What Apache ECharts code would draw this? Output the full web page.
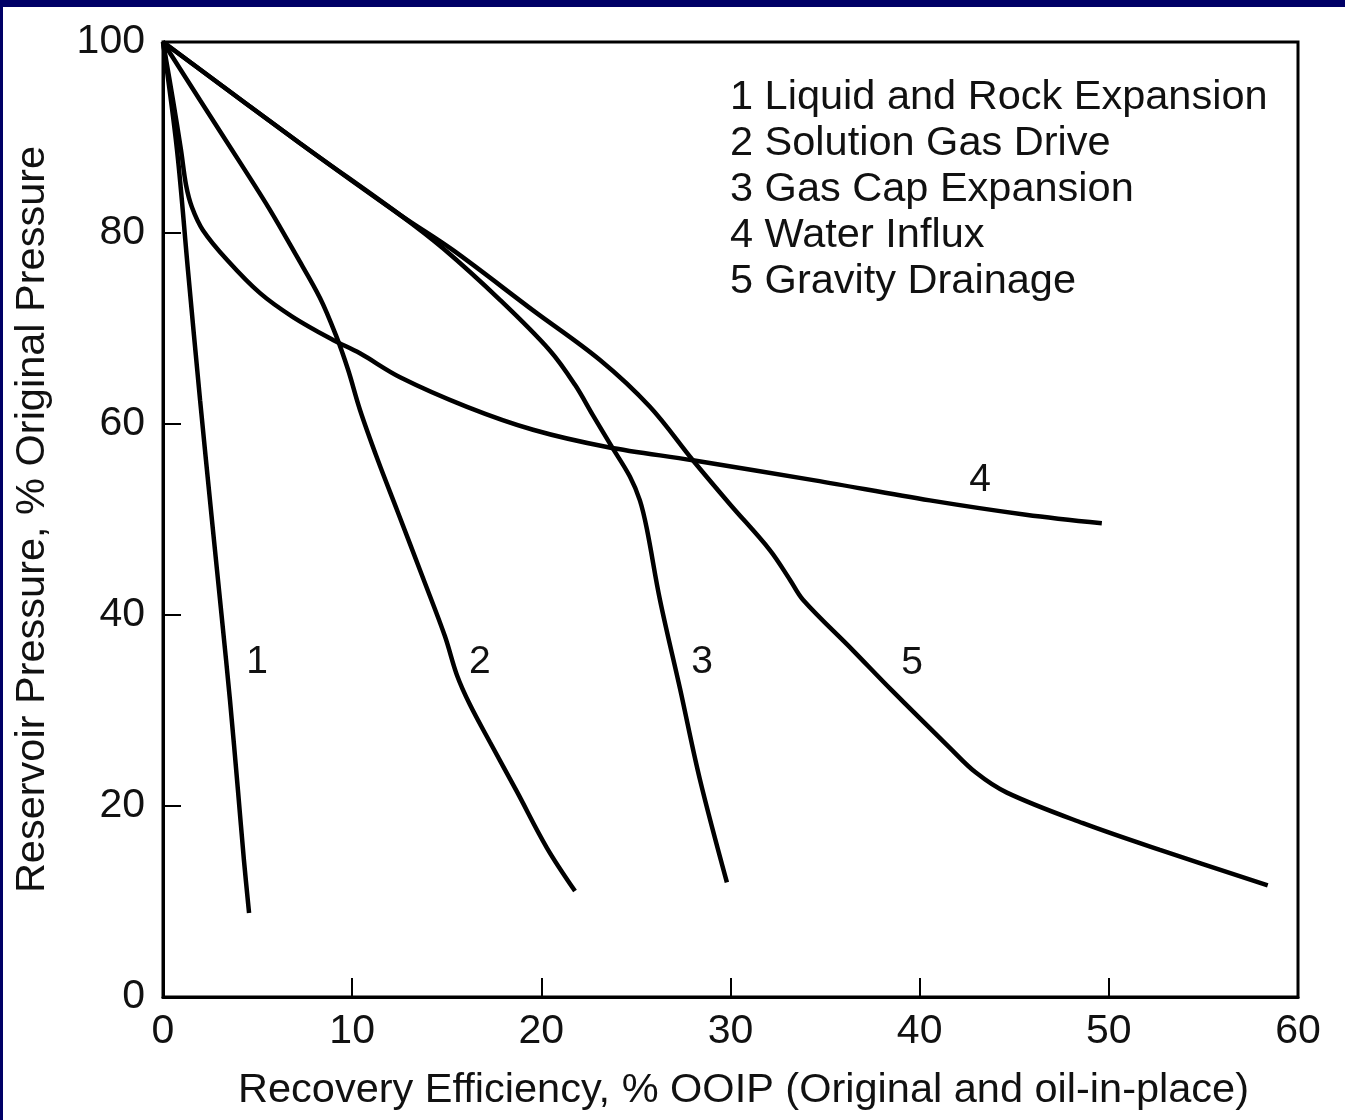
<!DOCTYPE html>
<html>
<head>
<meta charset="utf-8">
<script src="https://cdn.jsdelivr.net/npm/echarts@6/dist/echarts.min.js"></script>
<style>
  html, body { margin: 0; padding: 0; background: #fff; }
  #chart { position: absolute; left: 0; top: 0; width: 1345px; height: 1120px; }
  .band { position: absolute; background: #000066; z-index: 5; }
</style>
</head>
<body>
<div id="chart"></div>
<div class="band" style="left:0;top:0;width:1345px;height:7px;"></div>
<div class="band" style="left:0;top:0;width:3px;height:1120px;"></div>
<script>
// Curve 1: Liquid and Rock Expansion
const curve1X = [0, 0.74, 1.32, 1.96, 2.59, 3.12, 3.54, 3.96, 4.28, 4.55];
const curve1Y = [100, 88.7, 76.1, 62.5, 49.9, 39.5, 31.1, 21.7, 14.3, 8.8];
// Curve 2: Solution Gas Drive
const curve2X = [0, 1.96, 4.23, 5.66, 7.03, 8.30, 9.14, 9.78, 10.41, 11.36, 12.37, 13.74, 14.90, 15.54, 16.23, 17.28, 18.71, 20.30, 21.78];
const curve2Y = [100, 93.9, 86.9, 82.4, 77.7, 73.2, 69.3, 65.7, 61.5, 56.2, 51.0, 43.9, 37.8, 33.7, 30.6, 26.7, 21.5, 15.6, 11.1];
// Curve 3: Gas Cap Expansion
const curve3X = [0, 7.24, 12.53, 14.80, 17.81, 20.45, 21.78, 22.73, 23.73, 24.68, 25.21, 25.58, 26.27, 27.33, 28.38, 29.81];
const curve3Y = [100, 89.4, 81.9, 78.4, 73.0, 67.7, 64.1, 60.9, 57.6, 54.5, 52.0, 49.0, 41.6, 32.3, 22.8, 12.0];
// Curve 4: Water Influx
const curve4X = [0, 0.53, 0.95, 1.22, 1.53, 2.11, 3.38, 5.13, 6.87, 8.99, 10.41, 12.53, 16.07, 19.56, 23.47, 28.01, 34.46, 40.54, 45.61, 49.63];
const curve4Y = [100, 93.9, 88.7, 85.0, 82.7, 80.3, 77.2, 73.7, 71.2, 68.8, 67.4, 64.9, 61.8, 59.4, 57.6, 56.2, 54.1, 52.0, 50.5, 49.6];
// Curve 5: Gravity Drainage
const curve5X = [0, 7.24, 12.53, 15.33, 19.56, 23.10, 25.74, 28.01, 29.97, 32.08, 33.14, 33.83, 36.47, 38.53, 41.54, 42.97, 44.61, 48.63, 52.70, 58.40];
const curve5Y = [100, 89.4, 81.9, 78.2, 71.9, 66.7, 61.8, 56.2, 51.6, 46.8, 43.7, 41.6, 36.3, 32.1, 26.2, 23.5, 21.4, 18.2, 15.4, 11.7];

const curveNames = ['1', '2', '3', '4', '5'];
// positions of the numeric curve labels (data units)
const labelX = [4.97, 16.75, 28.5, 43.2, 39.6];
const labelY = [35.1, 35.1, 35.1, 54.1, 35.0];

const legendLines = [
  '1 Liquid and Rock Expansion',
  '2 Solution Gas Drive',
  '3 Gas Cap Expansion',
  '4 Water Influx',
  '5 Gravity Drainage'
];

const xTicks = [0, 10, 20, 30, 40, 50, 60];
const yTicks = [0, 20, 40, 60, 80, 100];

const FONT = '"Liberation Sans", Arial, Helvetica, sans-serif';

function pairs(xs, ys) { return xs.map((x, i) => [x, ys[i]]); }
const allX = [curve1X, curve2X, curve3X, curve4X, curve5X];
const allY = [curve1Y, curve2Y, curve3Y, curve4Y, curve5Y];

const series = allX.map((xs, i) => ({
  type: 'line',
  name: curveNames[i],
  data: pairs(xs, allY[i]),
  smooth: 0.35,
  showSymbol: false,
  symbol: 'none',
  lineStyle: { color: '#000', width: 4.5 },
  silent: true,
  markPoint: {
    symbol: 'circle',
    symbolSize: 0,
    label: { show: true, formatter: curveNames[i], color: '#111', fontSize: 39, fontFamily: FONT, position: 'inside' },
    data: [{ coord: [labelX[i], labelY[i]] }]
  }
}));

const chart = echarts.init(document.getElementById('chart'), null, { renderer: 'canvas' });
chart.setOption({
  animation: false,
  backgroundColor: '#fff',
  grid: { left: 163, top: 42, right: 47, bottom: 123, show: true, borderColor: '#000', borderWidth: 3, backgroundColor: 'transparent' },
  xAxis: {
    type: 'value', min: xTicks[0], max: xTicks[xTicks.length - 1], interval: 10,
    name: 'Recovery Efficiency, % OOIP (Original and oil-in-place)',
    nameLocation: 'middle', nameGap: 73,
    nameTextStyle: { color: '#111', fontSize: 41.5, fontFamily: FONT, padding: [0, 0, 0, 26] },
    axisLine: { show: true, lineStyle: { color: '#000', width: 3 } },
    axisTick: { show: true, inside: true, length: 19, lineStyle: { color: '#000', width: 2 } },
    axisLabel: { color: '#111', fontSize: 41, fontFamily: FONT, margin: 14 },
    splitLine: { show: false }
  },
  yAxis: {
    type: 'value', min: yTicks[0], max: yTicks[yTicks.length - 1], interval: 20,
    name: 'Reservoir Pressure, % Original Pressure',
    nameLocation: 'middle', nameGap: 109,
    nameTextStyle: { color: '#111', fontSize: 41.5, fontFamily: FONT },
    axisLine: { show: true, lineStyle: { color: '#000', width: 3 } },
    axisTick: { show: true, inside: true, length: 18, lineStyle: { color: '#000', width: 2 } },
    axisLabel: { color: '#111', fontSize: 41, fontFamily: FONT, margin: 18 },
    splitLine: { show: false }
  },
  graphic: [{
    type: 'text',
    left: 730, top: 75,
    style: {
      text: legendLines.join('\n'),
      fill: '#111',
      font: '41.5px ' + FONT,
      lineHeight: 46
    }
  }],
  series: series
});
</script>
</body>
</html>
